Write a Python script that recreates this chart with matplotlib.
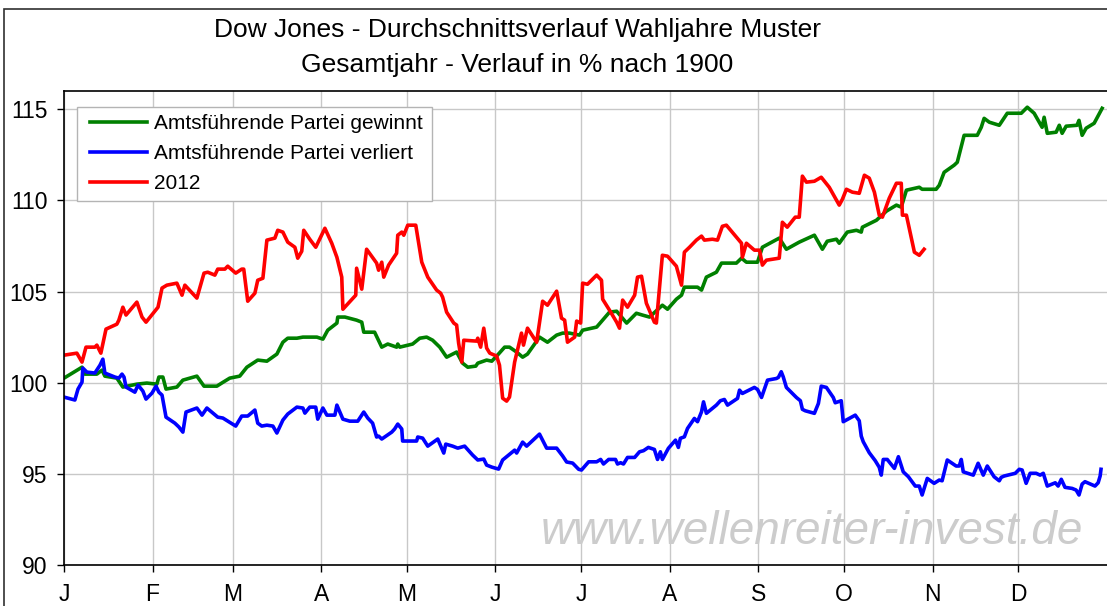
import numpy as np
import matplotlib.pyplot as plt
from matplotlib.patches import Rectangle

plt.rcParams['font.family'] = ['Liberation Sans', 'DejaVu Sans']

# month ticks (day of year at month start)
month_labels = ['J', 'F', 'M', 'A', 'M', 'J', 'J', 'A', 'S', 'O', 'N', 'D']
month_start = [0, 31, 59, 90, 120, 151, 181, 212, 243, 273, 304, 334]

legend_labels = ['Amtsführende Partei gewinnt', 'Amtsführende Partei verliert', '2012']

# Amtsführende Partei gewinnt (green)
green_day = [0, 6.3, 7.3, 11.5, 13.3, 14.3, 18.5, 20.6, 25.5, 29.0,
             32.5, 33.2, 34.6, 35.7, 39.5, 41.6, 46.5, 49.0, 53.5, 55.2,
             58.0, 61.5, 64.0, 67.8, 71.0, 74.5, 76.6, 78.3, 81.5, 83.6,
             88.5, 90.6, 92.3, 95.5, 95.8, 98.3, 102.4, 104.2, 104.9, 108.7,
             111.2, 113.3, 116.4, 116.8, 117.5, 122.0, 124.5, 126.9, 129.0, 131.5,
             133.9, 137.4, 139.5, 141.3, 144.1, 144.8, 147.9, 149.7, 151.7, 154.2,
             155.9, 158.4, 160.5, 162.2, 166.4, 169.2, 172.4, 174.5, 176.9, 180.4,
             181.5, 186.4, 188.5, 190.9, 193.4, 196.9, 200.3, 202.4, 204.9, 209.4,
             211.2, 214.3, 216.1, 217.1, 221.7, 223.1, 224.8, 228.3, 230.1, 235.3,
             237.1, 238.8, 242.7, 244.4, 250.3, 252.8, 257.3, 262.6, 265.4, 267.1,
             270.3, 271.3, 274.1, 277.3, 279.0, 279.4, 284.3, 287.8, 291.3, 293.0,
             294.8, 299.3, 300.3, 305.2, 306.3, 308.0, 311.5, 312.6, 315.0, 319.6,
             321.0, 322.0, 323.8, 327.3, 330.1, 335.0, 337.1, 339.5, 341.3, 342.3,
             343.0, 344.1, 347.2, 348.3, 349.3, 350.7, 354.5, 355.2, 356.3, 357.7,
             360.5, 363.3]
green_val = [100.25, 100.85, 100.47, 100.47, 100.69, 100.36, 100.25, 99.76, 99.92, 99.98,
             99.92, 100.31, 100.31, 99.65, 99.76, 100.14, 100.36, 99.81, 99.81, 99.98,
             100.25, 100.36, 100.85, 101.24, 101.18, 101.57, 102.22, 102.44, 102.44, 102.50,
             102.50, 102.39, 102.88, 103.27, 103.60, 103.60, 103.43, 103.32, 102.77, 102.77,
             101.95, 102.12, 101.95, 102.12, 101.95, 102.12, 102.44, 102.50, 102.33, 101.95,
             101.40, 101.68, 101.07, 100.85, 100.91, 101.07, 101.24, 101.18, 101.51, 101.95,
             101.95, 101.68, 101.40, 101.57, 102.50, 102.22, 102.61, 102.72, 102.72, 102.61,
             102.88, 103.05, 103.43, 103.87, 103.92, 103.27, 103.81, 103.71, 103.60, 104.25,
             104.03, 104.58, 104.80, 105.24, 105.24, 105.08, 105.79, 106.06, 106.56, 106.56,
             106.83, 106.61, 106.61, 107.43, 107.93, 107.32, 107.71, 108.09, 107.32, 107.76,
             107.87, 107.65, 108.26, 108.36, 108.26, 108.53, 108.91, 109.41, 109.74, 109.63,
             110.56, 110.72, 110.61, 110.61, 110.83, 111.54, 111.93, 112.09, 113.57, 113.57,
             114.01, 114.50, 114.29, 114.12, 114.78, 114.78, 115.11, 114.78, 114.29, 114.01,
             114.56, 113.68, 113.74, 114.12, 113.68, 114.07, 114.12, 114.39, 113.57, 113.96,
             114.23, 115.05]

# Amtsführende Partei verliert (blue)
blue_day = [0, 3.8, 4.9, 6.3, 6.6, 8.0, 10.8, 12.6, 13.6, 14.3,
            17.8, 19.2, 20.3, 21.0, 21.7, 24.8, 25.9, 27.6, 28.7, 30.8,
            32.2, 33.2, 34.3, 35.7, 38.8, 40.2, 41.6, 42.7, 46.5, 48.3,
            50.0, 53.8, 55.6, 60.1, 62.2, 64.3, 66.8, 67.8, 69.2, 71.0,
            73.1, 74.5, 76.6, 78.3, 81.5, 83.6, 84.3, 86.0, 88.1, 88.8,
            90.6, 92.0, 94.8, 95.5, 97.6, 100.0, 102.8, 104.9, 106.3, 108.0,
            109.4, 110.1, 111.2, 114.7, 115.7, 116.8, 118.2, 118.5, 123.4, 123.8,
            125.5, 127.3, 130.8, 132.9, 133.6, 136.0, 137.8, 140.2, 143.0, 144.8,
            146.9, 147.9, 149.7, 152.1, 153.5, 157.7, 158.4, 160.5, 161.9, 166.4,
            168.9, 172.4, 174.5, 175.9, 178.0,
            180.1, 181.1, 183.6, 186.4, 187.8, 188.8, 190.6, 193.0, 193.7, 194.8,
            195.8, 197.2, 199.7, 201.4, 202.8, 204.5, 206.6, 207.7, 208.7, 209.4,
            211.5, 214.0, 215.0, 215.7, 217.1, 218.2, 220.6, 221.7, 223.1, 223.8,
            224.8, 228.3, 229.7, 231.1, 232.2, 235.7, 236.4, 237.4, 241.6, 242.7,
            244.1, 246.2, 249.3, 250.0, 251.0, 251.7, 252.8, 256.3, 257.7, 258.4,
            259.4, 262.6, 264.0, 265.0, 266.8, 269.2, 269.9, 272.0, 272.7, 276.9,
            278.3, 279.0, 279.7, 281.8, 283.9, 285.3, 286.0, 286.7, 288.1, 290.6,
            292.0, 293.7, 295.5, 297.9, 299.3, 300.3, 302.1, 304.5, 306.3, 307.3,
            309.1, 312.2, 313.3, 314.0, 314.7, 318.2, 319.9, 321.7, 323.1, 325.5,
            327.3, 328.0, 329.0, 332.9, 334.3, 335.3, 336.7, 338.1, 340.2, 341.6,
            342.7, 344.1, 346.9, 347.9, 349.0, 350.3, 352.8, 354.2, 355.2, 356.3,
            357.3, 360.8, 361.9, 362.6, 362.9]
blue_val = [99.21, 99.05, 99.65, 100.03, 100.80, 100.58, 100.53, 100.96, 101.29, 100.53,
            100.31, 100.25, 100.47, 100.31, 99.76, 99.48, 99.87, 99.54, 99.10, 99.43,
            99.81, 99.48, 99.32, 98.11, 97.78, 97.57, 97.29, 98.39, 98.61, 98.22,
            98.61, 98.11, 98.06, 97.62, 98.17, 98.17, 98.50, 97.78, 97.62, 97.67,
            97.62, 97.24, 97.95, 98.28, 98.66, 98.61, 98.33, 98.66, 98.66, 98.00,
            98.61, 98.22, 98.22, 98.77, 98.00, 97.89, 97.89, 98.39, 98.06, 97.78,
            97.02, 97.07, 96.91, 97.29, 97.46, 97.73, 97.46, 96.80, 96.80, 97.02,
            96.96, 96.52, 96.91, 96.14, 96.63, 96.52, 96.41, 96.52, 96.03, 95.76,
            95.81, 95.48, 95.37, 95.26, 95.76, 96.30, 96.14, 96.74, 96.52, 97.18,
            96.41, 96.41, 95.98, 95.65, 95.59,
            95.25, 95.21, 95.66, 95.66, 95.79, 95.54, 95.79, 95.79, 95.54, 95.61,
            95.54, 95.90, 95.90, 96.21, 96.27, 96.45, 96.34, 95.79, 96.21, 95.79,
            96.40, 96.85, 96.45, 96.95, 97.03, 97.49, 98.04, 97.86, 98.40, 98.95,
            98.32, 98.77, 99.01, 99.08, 98.77, 99.14, 99.59, 99.41, 99.74, 99.63,
            99.19, 100.14, 100.23, 100.29, 100.60, 100.32, 99.74, 99.19, 99.01, 98.54,
            98.46, 98.32, 98.86, 99.81, 99.74, 99.19, 98.90, 99.01, 97.86, 98.22,
            97.91, 97.07, 96.76, 96.16, 95.72, 95.36, 94.93, 95.79, 95.79, 95.30,
            95.94, 95.11, 94.84, 94.33, 94.33, 93.84, 94.75, 94.48, 94.66, 94.62,
            95.76, 95.43, 95.43, 95.79, 95.11, 94.93, 95.58, 94.93, 95.43, 94.84,
            94.62, 94.81, 94.88, 95.03, 95.25, 95.21, 94.48, 95.03, 95.03, 94.93,
            95.03, 94.33, 94.51, 94.33, 94.70, 94.26, 94.20, 94.11, 93.84, 94.44,
            94.57, 94.33, 94.51, 94.88, 95.25]

# 2012 (red)
red_day = [0.0, 4.5, 6.3, 7.7, 10.8, 11.5, 12.9, 14.7, 18.5, 19.2,
           20.6, 21.7, 25.5, 27.3, 28.7, 32.9, 34.3, 36.0, 39.5, 41.3,
           42.3, 46.5, 49.0, 50.3, 52.8, 53.8, 56.3, 57.3, 60.1, 62.2,
           62.9, 64.3, 66.8, 67.8, 69.6, 71.0, 73.8, 74.8, 76.6, 78.3,
           80.8, 81.8, 83.2, 83.9, 86.0, 88.1, 91.3, 93.7, 95.5, 97.2,
           97.6, 102.1, 102.4, 104.2, 105.9, 109.4, 110.1, 111.2, 111.9, 113.6,
           116.4, 116.8, 118.2, 118.9, 120.3, 123.1, 125.2, 127.3, 130.4, 131.8,
           132.5, 133.9, 136.4, 137.4, 138.1, 139.2, 139.9, 144.4, 144.8, 145.8,
           146.9, 147.9, 149.0, 151.4, 152.4, 153.5, 154.9, 155.9, 157.7, 160.1,
           160.8, 162.2, 165.4, 167.5, 169.2, 172.4, 174.1, 175.2, 176.2, 178.7,
           179.4, 180.8, 181.5, 183.2, 186.4, 188.1, 188.5, 190.9, 193.4, 194.4,
           195.5, 197.2, 199.7, 200.7, 202.1, 203.8, 206.6, 207.3, 209.4, 211.2,
           214.3, 216.1, 217.1, 218.9, 221.3, 223.1, 224.1, 226.9, 228.7, 230.4,
           231.8, 235.3, 237.1, 237.4, 238.8, 241.6, 243.4, 244.4, 245.8, 250.3,
           251.4, 253.1, 255.9, 257.3, 258.4, 259.8, 262.6, 265.0, 267.8, 271.3,
           272.4, 273.8, 275.9, 278.3, 280.1, 281.8, 283.6, 285.3, 286.4, 288.8,
           291.3, 293.0, 293.4, 294.8, 297.6, 299.3, 301.0]
red_val = [101.51, 101.62, 101.13, 101.95, 101.95, 102.06, 101.62, 102.94, 103.21, 103.43,
           104.14, 103.71, 104.42, 103.60, 103.32, 104.14, 105.19, 105.35, 105.46, 104.80,
           105.35, 104.64, 106.01, 106.06, 105.90, 106.23, 106.23, 106.39, 106.01, 106.23,
           106.23, 104.47, 104.91, 105.62, 105.73, 107.82, 107.93, 108.36, 108.26, 107.71,
           107.43, 106.83, 107.21, 108.36, 107.87, 107.43, 108.47, 107.65, 106.88, 105.79,
           104.03, 104.80, 106.28, 105.13, 107.32, 106.56, 106.17, 106.61, 105.79, 106.45,
           107.10, 108.09, 108.26, 108.09, 108.64, 108.64, 106.61, 105.79, 105.08, 104.91,
           104.69, 103.87, 103.27, 103.16, 102.17, 101.13, 102.33, 102.28, 102.44, 101.95,
           102.99, 101.90, 101.62, 101.46, 100.96, 99.15, 98.99, 99.21, 101.13, 102.72,
           102.06, 102.99, 102.22, 104.47, 104.25, 105.02, 103.54, 103.43, 102.22, 102.50,
           103.38, 103.27, 105.46, 105.40, 105.90, 105.62, 104.58, 103.98, 103.32, 102.99,
           104.53, 104.14, 104.80, 105.79, 105.84, 104.36, 103.32, 103.27, 106.99, 106.94,
           106.39, 105.35, 107.16, 107.43, 107.82, 108.04, 107.82, 107.87, 107.82, 108.58,
           108.64, 107.98, 107.65, 106.88, 107.65, 107.27, 107.27, 106.45, 106.72, 106.83,
           108.80, 108.53, 109.08, 109.08, 111.33, 111.00, 111.05, 111.27, 110.72, 109.74,
           110.06, 110.61, 110.45, 110.39, 111.38, 111.22, 110.45, 109.19, 109.08, 110.12,
           110.94, 110.94, 109.19, 109.19, 107.16, 106.99, 107.32]

W, H = 1107, 606
fig = plt.figure(figsize=(W / 100, H / 100), dpi=100)
fig.patch.set_facecolor('white')

# chart area border
fig.add_artist(Rectangle((3.5 / W, -0.05), 1.2, 1 - 9 / H + 0.05, transform=fig.transFigure,
                         fill=False, edgecolor='#303030', lw=1.2))

ax = fig.add_axes([64 / W, 41 / H, 1 - 64 / W, 474 / H])
ax.plot(green_day, green_val, color='#008000', lw=2.6, label=legend_labels[0])
ax.plot(blue_day, blue_val, color='#0000ff', lw=2.6, label=legend_labels[1])
ax.plot(red_day, red_val, color='#ff0000', lw=2.6, label=legend_labels[2])

ax.set_xlim(0, 365)
ax.set_ylim(90, 116)
ax.set_xticks(month_start)
ax.set_xticklabels(month_labels)
ax.set_yticks([90, 95, 100, 105, 110, 115])
ax.tick_params(axis='both', direction='out', length=5, width=1, labelsize=16.5, colors='black')
ax.tick_params(axis='x', pad=8)
ax.tick_params(axis='y', pad=7)
ax.grid(True, color='#c8c8c8', lw=1)
ax.set_axisbelow(True)
for s in ['left', 'bottom', 'top']:
    ax.spines[s].set_linewidth(1.2)
    ax.spines[s].set_color('black')
ax.spines['right'].set_visible(False)

# legend box drawn separately so the padding can differ left/top
ax.add_patch(Rectangle((77 / W, 1 - 201 / H), 355 / W, 94 / H, transform=fig.transFigure,
                       facecolor='white', edgecolor='#b4b4b4', lw=1, zorder=4.5, clip_on=False))
leg = ax.legend(loc='upper left', bbox_to_anchor=(90 / W, 1 - 114 / H), bbox_transform=fig.transFigure,
                fontsize=15, frameon=False, borderaxespad=0, borderpad=0,
                handlelength=2.75, handletextpad=0.3, labelspacing=0.54)
leg.set_zorder(5)

fig.text(517 / W, 1 - 30 / H, 'Dow Jones - Durchschnittsverlauf Wahljahre Muster',
         ha='center', va='center', fontsize=19)
fig.text(517 / W, 1 - 65 / H, 'Gesamtjahr - Verlauf in % nach 1900',
         ha='center', va='center', fontsize=19)

# watermark
fig.text(812 / W, 1 - 532 / H, 'www.wellenreiter-invest.de', ha='center', va='center',
         fontsize=33, style='italic', color='#cccccc')

fig.savefig('out.png', dpi=100)
